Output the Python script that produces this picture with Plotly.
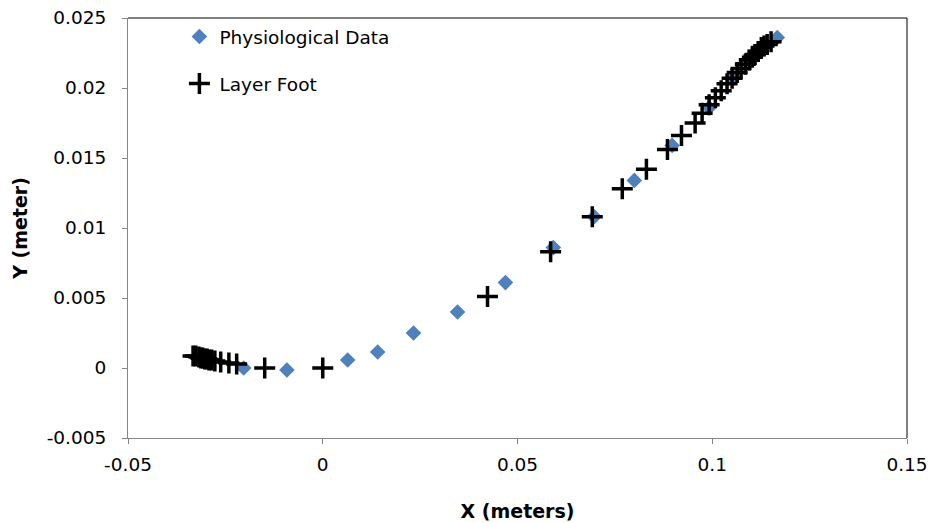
import plotly.graph_objects as go

# Physiological Data (blue diamonds)
phys_x = [-0.0203, -0.0092, 0.0064, 0.0141, 0.0233, 0.0346, 0.0469, 0.0592,
          0.0697, 0.0800, 0.0897, 0.0992, 0.1051, 0.1100, 0.1167]
phys_y = [0.0000, -0.00014, 0.00057, 0.00114, 0.0025, 0.0040, 0.0061, 0.0086,
          0.0108, 0.0134, 0.0159, 0.0186, 0.0207, 0.0221, 0.0236]

# Layer Foot (black crosses)
foot_x = [-0.0333, -0.0326, -0.0318, -0.0313, -0.0308, -0.0303, -0.0297, -0.0292,
          -0.0285, -0.0277, -0.0262, -0.0241, -0.0221, -0.0149, 0.0000, 0.0423,
          0.0585, 0.0692, 0.0769, 0.0831, 0.0885, 0.0921, 0.0956, 0.0974, 0.0992,
          0.1008, 0.1023, 0.1038, 0.1051, 0.1064, 0.1074, 0.1085, 0.1095, 0.1103,
          0.1110, 0.1118, 0.1126, 0.1133, 0.1141, 0.1151]
foot_y = [0.00086, 0.00086, 0.00079, 0.00071, 0.00071, 0.00064, 0.00064, 0.00057,
          0.00057, 0.0005, 0.00043, 0.00036, 0.00029, 0.0000, 0.0000, 0.0051,
          0.0083, 0.0108, 0.0128, 0.0142, 0.0156, 0.0166, 0.0175, 0.0182, 0.0188,
          0.0193, 0.0198, 0.0203, 0.0207, 0.0211, 0.0214, 0.0217, 0.0220, 0.0222,
          0.0224, 0.0226, 0.0229, 0.0230, 0.0231, 0.0233]

x_ticks = [-0.05, 0, 0.05, 0.1, 0.15]
x_labels = ["-0.05", "0", "0.05", "0.1", "0.15"]
y_ticks = [-0.005, 0, 0.005, 0.01, 0.015, 0.02, 0.025]
y_labels = ["-0.005", "0", "0.005", "0.01", "0.015", "0.02", "0.025"]

FONT = "'DejaVu Sans', sans-serif"

fig = go.Figure()
fig.add_trace(go.Scatter(
    x=phys_x, y=phys_y, mode="markers", name="Physiological Data",
    legendgroup="a",
    marker=dict(symbol="diamond", size=12, color="#4F81BD", line=dict(width=0)),
))
fig.add_trace(go.Scatter(
    x=foot_x, y=foot_y, mode="markers", name="Layer Foot",
    legendgroup="b",
    marker=dict(symbol="cross-thin", size=15, color="black",
                line=dict(width=3.5, color="black")),
))

axis_common = dict(
    showline=True, linecolor="#868686", linewidth=1,
    ticks="outside", ticklen=5, tickcolor="#868686", tickwidth=1,
    showgrid=False, zeroline=False, automargin=False,
    tickfont=dict(family=FONT, size=18.5, color="black"),
)

fig.update_layout(
    width=935, height=523,
    margin=dict(l=128, r=28, t=18, b=85),
    paper_bgcolor="white", plot_bgcolor="white",
    font=dict(family=FONT, color="black"),
    showlegend=True,
    legend=dict(x=0.066, y=1.0, xanchor="left", yanchor="top",
                bgcolor="rgba(0,0,0,0)", font=dict(family=FONT, size=18.5),
                tracegroupgap=20, traceorder="grouped", itemwidth=30),
    xaxis=dict(range=[-0.05, 0.15], tickvals=x_ticks, ticktext=x_labels,
               ticklabelstandoff=5,
               title=dict(text="<b>X (meters)</b>", font=dict(family=FONT, size=19),
                          standoff=30),
               **axis_common),
    yaxis=dict(range=[-0.005, 0.025], tickvals=y_ticks, ticktext=y_labels,
               ticklabelstandoff=12,
               title=dict(text="<b>Y (meter)</b>", font=dict(family=FONT, size=19),
                          standoff=14),
               **axis_common),
    shapes=[
        dict(type="line", xref="paper", yref="paper", x0=0, x1=1, y0=1, y1=1,
             line=dict(color="black", width=1)),
        dict(type="line", xref="paper", yref="paper", x0=1, x1=1, y0=0, y1=1,
             line=dict(color="black", width=1)),
    ],
)

fig.write_html("out.html")
